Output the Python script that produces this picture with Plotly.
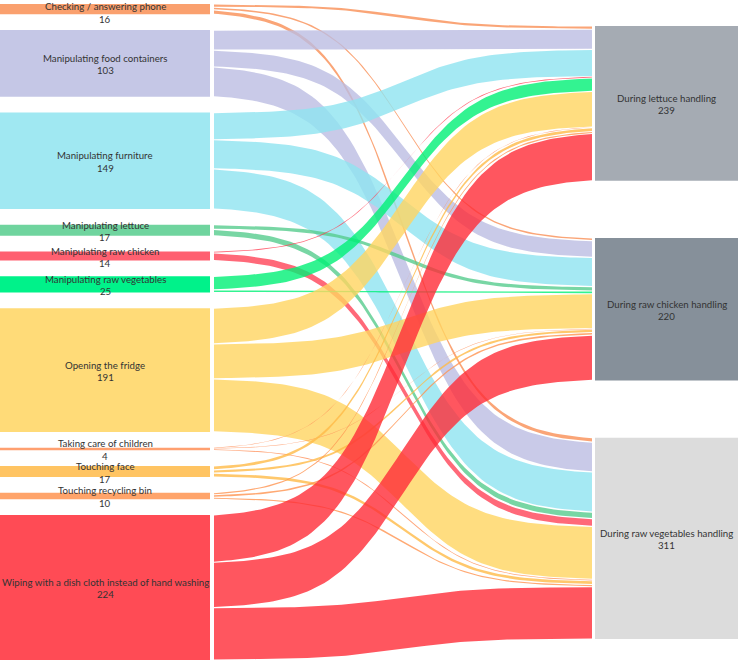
import numpy as np
import plotly.graph_objects as go

# ---------------- data ----------------
sources = [
    "Checking / answering phone",
    "Manipulating food containers",
    "Manipulating furniture",
    "Manipulating lettuce",
    "Manipulating raw chicken",
    "Manipulating raw vegetables",
    "Opening the fridge",
    "Taking care of children",
    "Touching face",
    "Touching recycling bin",
    "Wiping with a dish cloth instead of hand washing",
]
targets = [
    "During lettuce handling",
    "During raw chicken handling",
    "During raw vegetables handling",
]
to_lettuce = [5, 31, 42, 0, 2, 21, 55, 1, 6, 3, 73]
to_chicken = [4, 26, 45, 7, 0, 4, 54, 1, 5, 4, 70]
to_vegetables = [7, 46, 62, 10, 12, 0, 82, 2, 6, 3, 81]

source_colors = [
    "#FAA06E", "#C5C7E6", "#A0E8F2", "#6FD49E", "#FF6070", "#00F28A",
    "#FFDB78", "#FFA070", "#FFC462", "#FFA46A", "#FF4B55",
]
target_colors = ["#A5ABB3", "#86909A", "#DCDCDC"]

# ---------------- layout helpers ----------------
W, H = 740, 662
K = 0.6475                    # pixels per count
LEFT_X0, LEFT_X1 = 0, 210
RIGHT_X0, RIGHT_X1 = 595, 738
LINK_X0, LINK_X1 = 214, 592
LEFT_TOP, LEFT_BOTTOM = 4, 660
RIGHT_TOP, RIGHT_BOTTOM = 26, 639
FONT = dict(family="Lato", size=9.7, color="#333333")
LINK_ALPHA = 0.8
LINK_LIGHTEN = 0.06

flows = np.array([to_lettuce, to_chicken, to_vegetables]).T  # (source, target)
src_tot = flows.sum(axis=1)
tgt_tot = flows.sum(axis=0)

def column_positions(totals, top, bottom):
    n = len(totals)
    gap = ((bottom - top) - totals.sum() * K) / (n - 1)
    y0s = []
    y = top
    for tt in totals:
        y0s.append(y)
        y += tt * K + gap
    return np.array(y0s)

src_y0 = column_positions(src_tot, LEFT_TOP, LEFT_BOTTOM)
tgt_y0 = column_positions(tgt_tot, RIGHT_TOP, RIGHT_BOTTOM)

def link_rgba(h, a):
    h = h.lstrip("#")
    rgb = np.array([int(h[0:2], 16), int(h[2:4], 16), int(h[4:6], 16)], float)
    on_white = rgb * (1 - LINK_LIGHTEN) + 255 * LINK_LIGHTEN
    base = np.clip((on_white - (1 - a) * 255) / a, 0, 255)
    r, g, b = (int(round(c)) for c in base)
    return f"rgba({r},{g},{b},{a})"

t = np.linspace(0, 1, 90)
kk = 10.0
sig = 1 / (1 + np.exp(-kk * (t - 0.5)))
s0, s1 = 1 / (1 + np.exp(kk / 2)), 1 / (1 + np.exp(-kk / 2))
s = (sig - s0) / (s1 - s0)
xs = LINK_X0 + (LINK_X1 - LINK_X0) * t

fig = go.Figure()

# ---------------- links ----------------
tgt_off = np.zeros(len(targets))
for i in range(len(sources)):
    s_off = 0.0
    for j in range(len(targets)):
        v = flows[i, j]
        if v <= 0:
            continue
        thick = v * K
        sh = min(0.6, 0.2 * thick)
        a0 = src_y0[i] + s_off * K
        b0 = tgt_y0[j] + tgt_off[j] * K
        top = a0 + (b0 - a0) * s + sh
        bot = top + thick - 2 * sh
        fig.add_trace(go.Scatter(
            x=np.concatenate([xs, xs[::-1]]),
            y=np.concatenate([top, bot[::-1]]),
            mode="lines", fill="toself",
            fillcolor=link_rgba(source_colors[i], LINK_ALPHA),
            line=dict(color="rgba(0,0,0,0)", width=0),
            hoverinfo="skip", showlegend=False,
        ))
        s_off += v
        tgt_off[j] += v

# ---------------- nodes ----------------
def rect(x0, x1, y0, y1, color):
    fig.add_trace(go.Scatter(
        x=[x0, x1, x1, x0, x0], y=[y0, y0, y1, y1, y0],
        mode="lines", fill="toself", fillcolor=color,
        line=dict(width=0, color=color),
        hoverinfo="skip", showlegend=False,
    ))

annotations = []
def label(xc, yc, name, val):
    ny = max(yc - 5.5, 6.0)
    annotations.append(dict(x=xc, y=ny, text=name, showarrow=False,
                            xref="x", yref="y", yanchor="middle", font=FONT))
    annotations.append(dict(x=xc, y=ny + 12.5, text=str(val), showarrow=False,
                            xref="x", yref="y", yanchor="middle", font=FONT))

for i, name in enumerate(sources):
    y0 = src_y0[i]
    y1 = y0 + src_tot[i] * K
    rect(LEFT_X0, LEFT_X1, y0, y1, source_colors[i])
    label((LEFT_X0 + LEFT_X1) / 2, (y0 + y1) / 2, name, int(src_tot[i]))

for j, name in enumerate(targets):
    y0 = tgt_y0[j]
    y1 = y0 + tgt_tot[j] * K
    rect(RIGHT_X0, RIGHT_X1, y0, y1, target_colors[j])
    label((RIGHT_X0 + RIGHT_X1) / 2, (y0 + y1) / 2, name, int(tgt_tot[j]))

fig.update_layout(
    width=W, height=H,
    margin=dict(l=0, r=0, t=0, b=0),
    paper_bgcolor="white", plot_bgcolor="white",
    xaxis=dict(range=[0, W], visible=False, fixedrange=True),
    yaxis=dict(range=[H, 0], visible=False, fixedrange=True),
    annotations=annotations,
    showlegend=False,
)

post = (
    "document.body.style.margin='0';"
    "document.body.style.overflow='hidden';"
)

fig.write_html(
    "out.html",
    config={"displayModeBar": False},
    post_script=post,
)
